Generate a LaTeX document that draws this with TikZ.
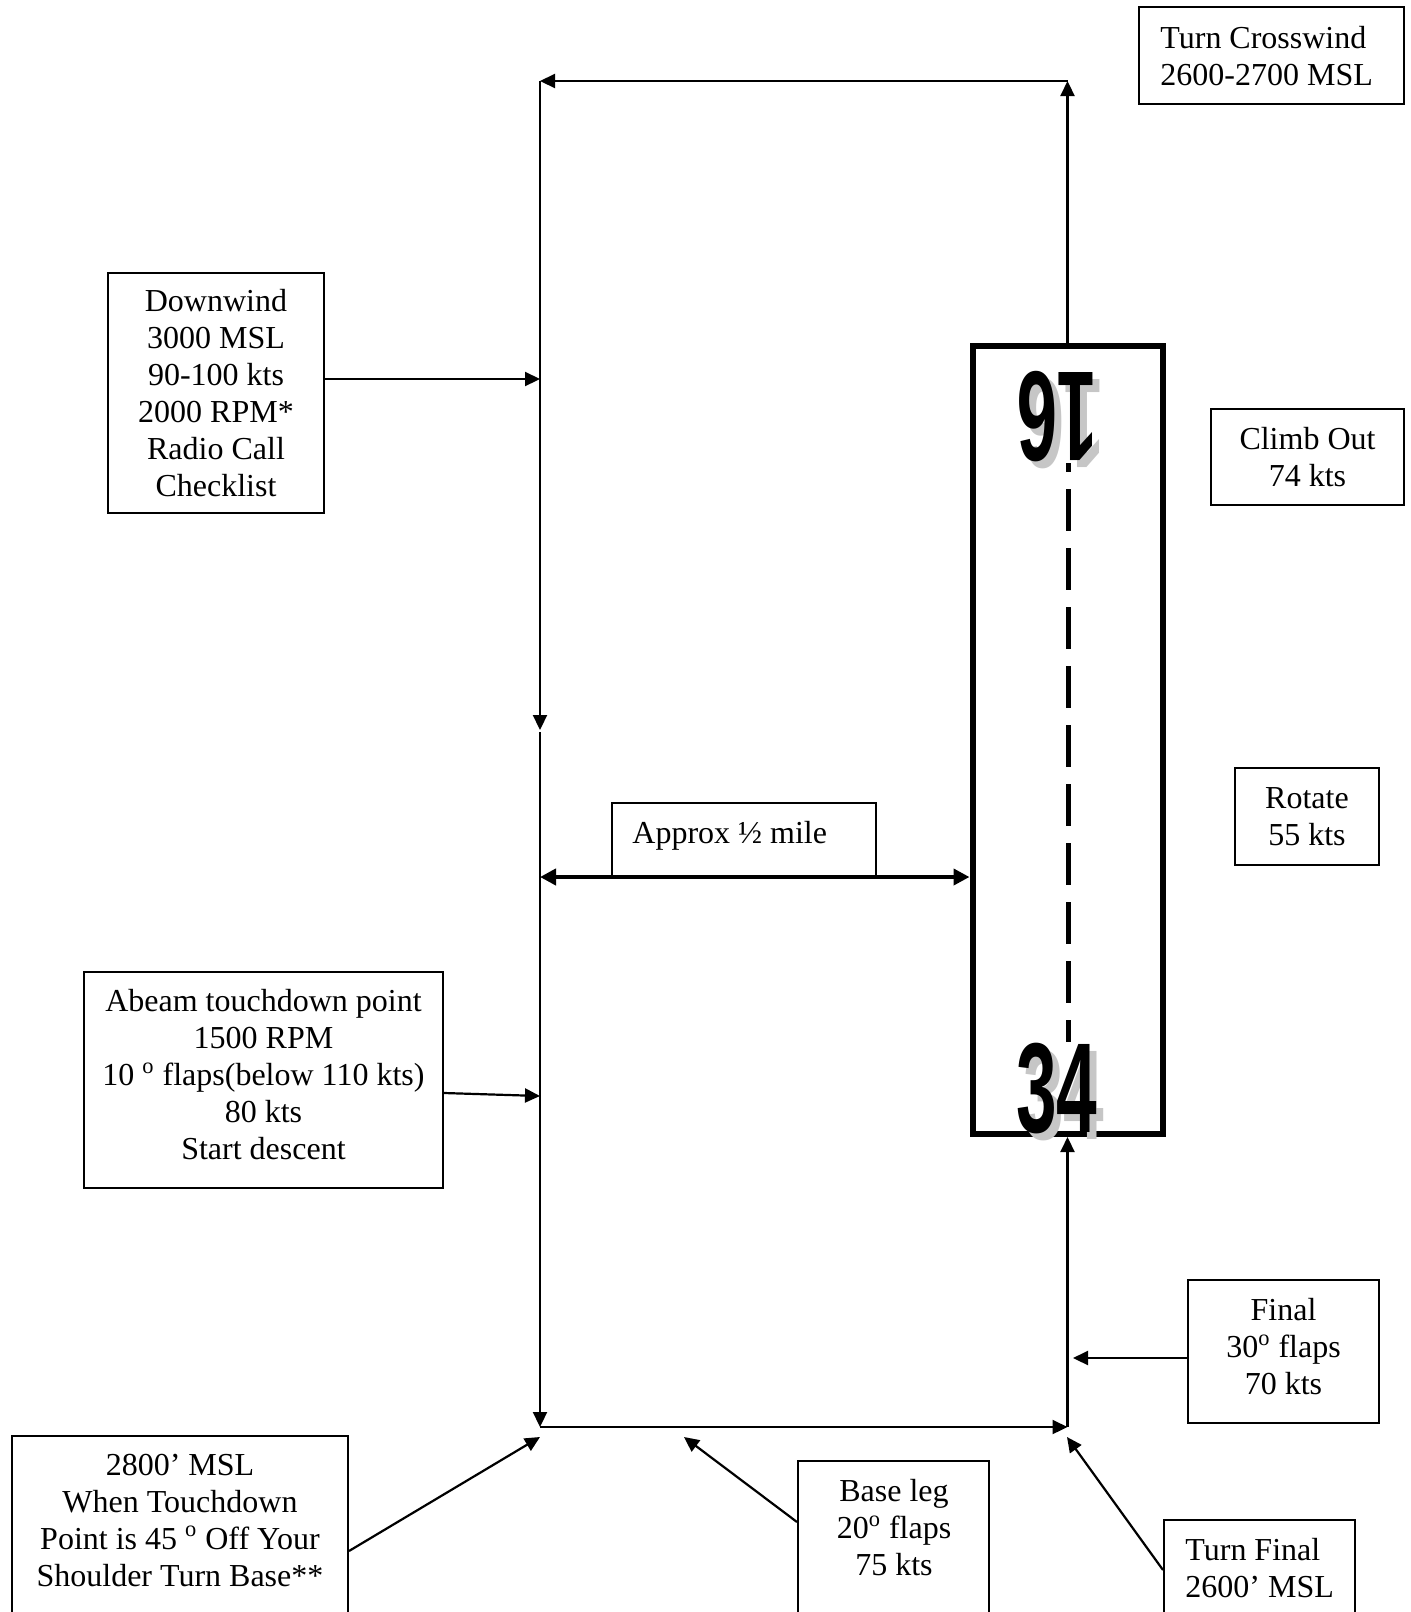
\documentclass[tikz,border=0pt]{standalone}
\usepackage{fontspec}
\setmainfont{Liberation Serif}
\newfontfamily\rwyfont{Liberation Sans}
\usetikzlibrary{arrows.meta}
\begin{document}
\begin{tikzpicture}[x=0.5pt,y=-0.5pt,
  box/.style={draw, line width=1pt, inner sep=0pt, align=center, font=\fontsize{16pt}{18.5pt}\selectfont},
  lbl/.style={inner sep=0pt, align=center, font=\fontsize{16pt}{18.5pt}\selectfont},
  ln/.style={line width=1.1pt},
  arr/.style={-{Triangle[length=7.5pt,width=7pt]}},
  dblarr/.style={{Triangle[length=8pt,width=8pt]}-{Triangle[length=8pt,width=8pt]}, line width=2pt},
  rwnum/.style={inner sep=0pt, font=\rwyfont\bfseries\fontsize{64pt}{64pt}\selectfont},
  runway/.style={draw, line width=3pt, inner sep=0pt}
]
\useasboundingbox (0,0) rectangle (1411,1612);

% runway
\node[runway, minimum width=95pt, minimum height=394pt] (rw) at (1067.5,740) {};
\draw[line width=2.5pt, dash pattern=on 21pt off 8.5pt, dash phase=16.5pt] (1068,463) -- (1068,1042);
\node[rwnum, text=gray!45, rotate=180] (n16s) at (1064,424) {\scalebox{0.57}[1]{16}};
\node[rwnum, rotate=180] (n16) at (1057,417) {\scalebox{0.57}[1]{16}};
\node[rwnum, text=gray!45] (n34s) at (1064,1096) {\scalebox{0.57}[1]{34}};
\node[rwnum] (n34) at (1057,1089) {\scalebox{0.57}[1]{34}};

% boxes
\node[box, minimum width=132.5pt, minimum height=48.5pt] (tc) at (1271.5,55.5) {};
\node[lbl, align=left, anchor=west] (tct) at (1160,56) {Turn Crosswind\\2600-2700 MSL};
\node[box, minimum width=108pt, minimum height=120pt] (dw) at (216,393) {Downwind\\3000 MSL\\90-100 kts\\2000 RPM*\\Radio Call\\Checklist};
\node[box, minimum width=96.5pt, minimum height=48pt] (co) at (1307.5,457) {Climb Out\\74 kts};
\node[box, minimum width=72pt, minimum height=48.5pt] (ro) at (1307,816.5) {Rotate\\55 kts};
\node[box, minimum width=132pt, minimum height=37pt] (ap) at (744,840) {};
\node[lbl, anchor=west] (apt) at (632,836) {Approx ½ mile};
\node[box, minimum width=179.5pt, minimum height=108pt] (ab) at (263.5,1080) {};
\node[lbl] (abt) at (263.5,1075) {Abeam touchdown point\\1500 RPM\\10 \textsuperscript{o} flaps(below 110 kts)\\80 kts\\Start descent};
\node[box, minimum width=95.5pt, minimum height=71.5pt] (fi) at (1283.5,1351.5) {};
\node[lbl] (fit) at (1283.5,1347) {Final\\30\textsuperscript{o} flaps\\70 kts};
\node[box, minimum width=168pt, minimum height=150pt] (b28) at (180,1586) {};
\node[lbl] (b28t) at (180,1520) {2800’ MSL\\When Touchdown\\Point is 45 \textsuperscript{o} Off Your\\Shoulder Turn Base**};
\node[box, minimum width=95.5pt, minimum height=150pt] (bl) at (893.5,1611) {};
\node[lbl] (blt) at (894,1528) {Base leg\\20\textsuperscript{o} flaps\\75 kts};
\node[box, minimum width=95.5pt, minimum height=150pt] (tf) at (1259.5,1670) {};
\node[lbl, align=left, anchor=west] (tft) at (1185,1568) {Turn Final\\2600’ MSL};

% pattern corners
\coordinate (cTL) at (540,81);
\coordinate (cTR) at (1067.5,81);
\coordinate (cML) at (540,730);
\coordinate (cML2) at (540,732);
\coordinate (cBL) at (540,1427);
\coordinate (cBR) at (1067.5,1427);
\coordinate (cDW) at (540,379);
\coordinate (cAB) at (540,1096);
\coordinate (cHL) at (540,877);
\coordinate (cFI) at (1073,1358);
\coordinate (cB28) at (540,1437);
\coordinate (cBL2) at (684,1437);
\coordinate (cTF) at (1067,1437);

\draw[ln,arr] (rw.north) -- (cTR);
\draw[ln,arr] (cTR) -- (cTL);
\draw[ln,arr] (cTL) -- (cML);
\draw[ln,arr] (cML2) -- (cBL);
\draw[ln,arr] (cBL) -- (cBR);
\draw[ln,arr] (cBR) -- (rw.south);

\draw[ln,arr] (dw.east |- cDW) -- (cDW);
\draw[ln,arr] (ab.east |- 0,1093) -- (cAB);
\draw[dblarr] (cHL) -- (rw.west |- cHL);
\draw[ln,arr] (fi.west |- cFI) -- (cFI);
\draw[ln,arr] (b28.east |- 0,1551) -- (cB28);
\draw[ln,arr] (bl.west |- 0,1522) -- (cBL2);
\draw[ln,arr] (tf.west |- 0,1570) -- (cTF);
\end{tikzpicture}
\end{document}
